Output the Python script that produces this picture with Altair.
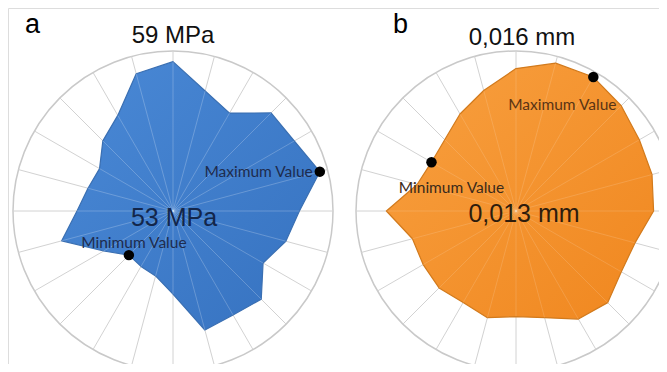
import math
import altair as alt
import pandas as pd

# ---------------- data ----------------
angles_deg = list(range(0, 360, 15))  # 24 spokes, clockwise from top

strength_mpa = [58.60, 57.66, 57.24, 58.20, 58.25, 58.70, 57.74, 57.38, 56.90, 57.68, 57.50, 57.62,
                56.12, 55.52, 55.40, 55.34, 56.00, 57.32, 56.60, 56.30, 56.18, 56.72, 57.14, 58.33]
deviation_mm = [0.01567, 0.01587, 0.01590, 0.01579, 0.01567, 0.01564, 0.01558, 0.01531, 0.01528, 0.01543,
                0.01534, 0.01507, 0.01498, 0.01507, 0.01498, 0.01504, 0.01501, 0.01501, 0.01543, 0.01492,
                0.01483, 0.01489, 0.01510, 0.01534]

range_a = [53, 59]
range_b = [0.013, 0.016]
labels_a = ["53 MPa", "59 MPa"]
labels_b = ["0,013 mm", "0,016 mm"]
panel_letters = ["a", "b"]

# ---------------- layout ----------------
W, H = 651, 356
R = 160
centers = {"a": (173, 211), "b": (516, 211)}
XS = alt.Scale(domain=[8, 8 + W], nice=False, zero=False)
YS = alt.Scale(domain=[8 + H, 8], nice=False, zero=False)


def polar(panel, values, rng):
    cx, cy = centers[panel]
    rows = []
    for i, (ang, v) in enumerate(zip(angles_deg, values)):
        r = R * (v - rng[0]) / (rng[1] - rng[0])
        t = math.radians(ang)
        rows.append({"panel": panel, "idx": i, "angle": ang, "value": v,
                     "x": cx + r * math.sin(t), "y": cy - r * math.cos(t),
                     "cx": cx, "cy": cy,
                     "ox": cx + R * math.sin(t), "oy": cy - R * math.cos(t)})
    return pd.DataFrame(rows)


da = polar("a", strength_mpa, range_a)
db = polar("b", deviation_mm, range_b)
spokes = pd.concat([da, db], ignore_index=True)
circles = pd.DataFrame([{"x": c[0], "y": c[1]} for c in centers.values()])

outer = alt.Chart(circles).mark_point(shape="circle", size=(2 * R) ** 2, filled=False,
                                      stroke="#c9c9c9", strokeWidth=1.5, opacity=1).encode(
    x=alt.X("x:Q", scale=XS, axis=None), y=alt.Y("y:Q", scale=YS, axis=None))

gray_spokes = alt.Chart(spokes).mark_rule(color="#d2d2d2", strokeWidth=1).encode(
    x=alt.X("cx:Q", scale=XS, axis=None), y=alt.Y("cy:Q", scale=YS, axis=None),
    x2="ox:Q", y2="oy:Q")

blue_grad = alt.Gradient(gradient="linear", x1=0, y1=0, x2=1, y2=1,
                         stops=[alt.GradientStop(offset=0, color="#4a89d6"),
                                alt.GradientStop(offset=1, color="#3672c0")])
orange_grad = alt.Gradient(gradient="linear", x1=0, y1=0, x2=1, y2=1,
                           stops=[alt.GradientStop(offset=0, color="#f8a040"),
                                  alt.GradientStop(offset=1, color="#f0871f")])


def poly(df, fill, stroke):
    return alt.Chart(df).mark_line(interpolate="linear-closed", fill=fill, stroke=stroke,
                                   strokeWidth=1.2, strokeJoin="round").encode(
        x=alt.X("x:Q", scale=XS, axis=None), y=alt.Y("y:Q", scale=YS, axis=None),
        order="idx:Q")


poly_a = poly(da, blue_grad, "#3a6fb2")
poly_b = poly(db, orange_grad, "#d27a1c")


def inner(df, op):
    return alt.Chart(df).mark_rule(color="#ffffff", strokeWidth=1, opacity=op).encode(
        x=alt.X("cx:Q", scale=XS, axis=None), y=alt.Y("cy:Q", scale=YS, axis=None),
        x2="x:Q", y2="y:Q")


inner_a = inner(da, 0.22)
inner_b = inner(db, 0.14)

# max / min points
ext_rows = []
for df in (da, db):
    mx = df.loc[df["value"].idxmax()]
    mn = df.loc[df["value"].idxmin()]
    ext_rows.append({"panel": mx["panel"], "kind": "Maximum Value", "x": mx["x"], "y": mx["y"]})
    ext_rows.append({"panel": mn["panel"], "kind": "Minimum Value", "x": mn["x"], "y": mn["y"]})
ext = pd.DataFrame(ext_rows)

dots = alt.Chart(ext).mark_point(shape="circle", size=110, filled=True, color="#000000", opacity=1).encode(
    x=alt.X("x:Q", scale=XS, axis=None), y=alt.Y("y:Q", scale=YS, axis=None))

small_font = "Lato"


def ext_label(panel, kind, color, align, dx, dy):
    sub = ext[(ext["panel"] == panel) & (ext["kind"] == kind)]
    return alt.Chart(sub).mark_text(font=small_font, fontSize=15.5, color=color, align=align,
                                    baseline="alphabetic", dx=dx, dy=dy).encode(
        x=alt.X("x:Q", scale=XS, axis=None), y=alt.Y("y:Q", scale=YS, axis=None), text="kind:N")


ext_labels = [
    ext_label("a", "Maximum Value", "#1e2c4e", "right", -7, 5),
    ext_label("a", "Minimum Value", "#1e2c4e", "center", 5, -7),
    ext_label("b", "Maximum Value", "#5a3414", "center", -31, 33),
    ext_label("b", "Minimum Value", "#3b2a1a", "center", 20, 31),
]


def text_at(txt, x, y, size, color, align="center"):
    return alt.Chart(pd.DataFrame({"t": [txt]})).mark_text(
        font="Liberation Sans", fontSize=size, color=color, align=align, baseline="alphabetic").encode(
        x=alt.datum(x, scale=XS, axis=None), y=alt.datum(y, scale=YS, axis=None), text="t:N")


texts = [
    text_at(panel_letters[0], 25, 33, 27, "#000000", "left"),
    text_at(panel_letters[1], 393, 33, 27, "#000000", "left"),
    text_at(labels_a[1], 173, 43, 24, "#111111"),
    text_at(labels_a[0], 174, 226, 25, "#13264a"),
    text_at(labels_b[1], 522, 45, 24, "#111111"),
    text_at(labels_b[0], 524, 222, 25, "#2e1c0c"),
]

chart = alt.layer(outer, gray_spokes, poly_a, poly_b, inner_a, inner_b, dots, *ext_labels, *texts).properties(
    width=W, height=H, padding=0, autosize=alt.AutoSizeParams(type="none")
).configure_view(stroke=None).configure(background="#ffffff")

chart.save("out.html", embed_options={"renderer": "svg", "actions": False})
